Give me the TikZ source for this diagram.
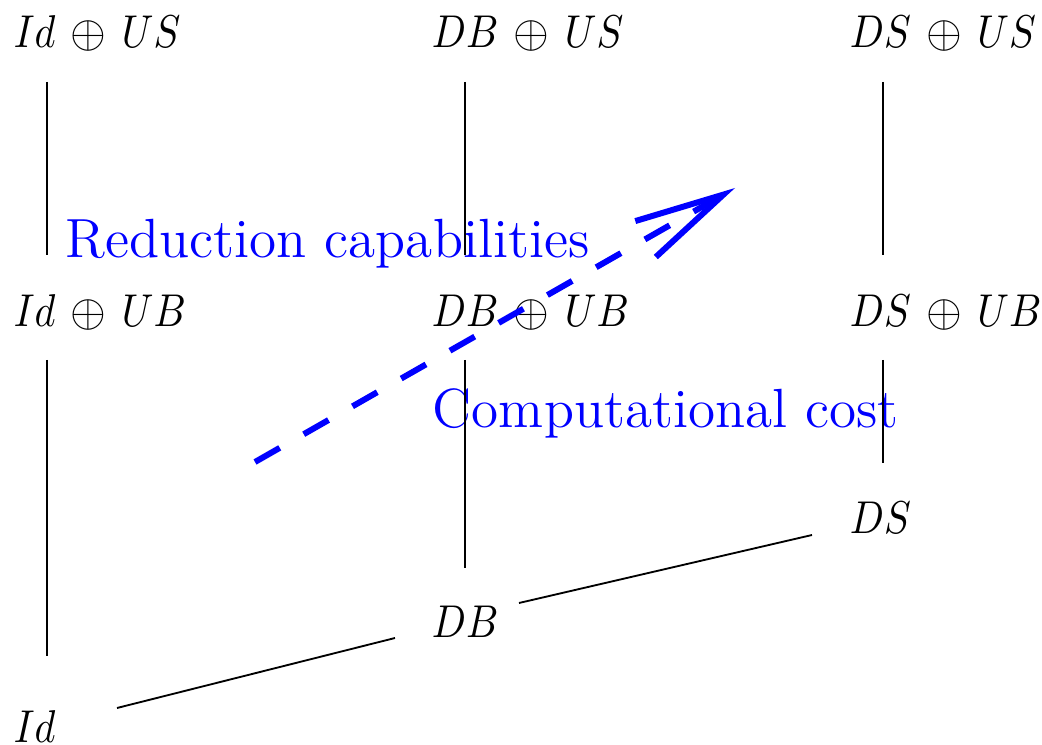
\documentclass[tikz,border=0pt]{standalone}
\usepackage{graphicx}
\usetikzlibrary{arrows.meta,calc}
\newcommand{\nrw}[1]{\scalebox{0.87}[1]{$#1$}}
\newcommand{\opl}{\mskip2mu\oplus\mskip2mu}
\begin{document}
\begin{tikzpicture}[x=0.2174pt,y=-0.2174pt,
  lbl/.style={inner sep=0pt,anchor=base west},
  blbl/.style={inner sep=0pt,anchor=base west,text=blue,font=\large},
  conn/.style={draw=black,line width=0.4pt},
  trend/.style={draw=blue,line width=1.3pt,dash pattern=on 6.2pt off 6pt,-{Straight Barb[length=19.5pt,width=9pt]}}]
\useasboundingbox (0,0) rectangle (1042,745);
% lattice nodes
\node[lbl] (IdUS) at (13,48) {$\nrw{Id}\opl\nrw{US}$};
\node[lbl] (DBUS) at (431,48) {$\nrw{DB}\opl\nrw{US}$};
\node[lbl] (DSUS) at (849,48) {$\nrw{DS}\opl\nrw{US}$};
\node[lbl] (IdUB) at (13,327) {$\nrw{Id}\opl\nrw{UB}$};
\node[lbl] (DBUB) at (431,327) {$\nrw{DB}\opl\nrw{UB}$};
\node[lbl] (DSUB) at (849,327) {$\nrw{DS}\opl\nrw{UB}$};
\node[lbl] (DS) at (849,534) {$\nrw{DS}$};
\node[lbl] (DB) at (431,638) {$\nrw{DB}$};
\node[lbl] (Id) at (13,742) {$\nrw{Id}$};
% blue labels
\node[blbl] (red) at (65,258) {Reduction capabilities};
\node[blbl] (comp) at (432,428) {Computational cost};
% connectors
\draw[conn] ($(IdUS.base west)+(34,34)$) -- ($(IdUB.base west)+(34,-72)$);
\draw[conn] ($(DBUS.base west)+(34,34)$) -- ($(DBUB.base west)+(34,-72)$);
\draw[conn] ($(DSUS.base west)+(34,34)$) -- ($(DSUB.base west)+(34,-72)$);
\draw[conn] ($(IdUB.base west)+(34,33)$) -- ($(Id.base west)+(34,-86)$);
\draw[conn] ($(DBUB.base west)+(34,33)$) -- ($(DB.base west)+(34,-70)$);
\draw[conn] ($(DSUB.base west)+(34,33)$) -- ($(DS.base west)+(34,-71)$);
\draw[conn] ($(Id.base west)+(104,-34)$) -- ($(DB.base west)+(-36,0)$);
\draw[conn] ($(DB.base west)+(88,-35)$) -- ($(DS.base west)+(-37,1)$);
% trend arrow
\coordinate (a0) at (255,462);
\coordinate (a1) at (735,188);
\draw[trend] (a0) -- (a1);
\end{tikzpicture}
\end{document}
